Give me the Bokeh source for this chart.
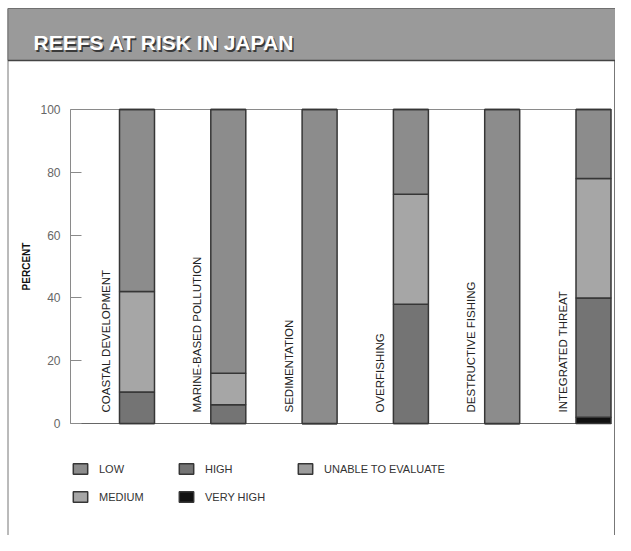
from math import pi
from bokeh.plotting import figure
from bokeh.models import (ColumnDataSource, Range1d, LinearAxis, FixedTicker,
                          Legend, LegendItem)
from bokeh.transform import dodge
from bokeh.core.properties import value
from bokeh.embed import file_html
from bokeh.resources import INLINE

# ---- data ----
title = "REEFS AT RISK IN JAPAN"
categories = ["COASTAL DEVELOPMENT", "MARINE-BASED POLLUTION", "SEDIMENTATION",
              "OVERFISHING", "DESTRUCTIVE FISHING", "INTEGRATED THREAT"]
very_high = [0, 0, 0, 0, 0, 2]
high = [10, 6, 0, 38, 0, 38]
medium = [32, 10, 0, 35, 0, 38]
low = [58, 84, 100, 27, 100, 22]
unable = [0, 0, 0, 0, 0, 0]
levels = ["very_high", "high", "medium", "low", "unable"]
level_labels = ["VERY HIGH", "HIGH", "MEDIUM", "LOW", "UNABLE TO EVALUATE"]
y_ticks = [0, 20, 40, 60, 80, 100]
y_label = "PERCENT"

colors = {"very_high": "#111111", "high": "#747474", "medium": "#a6a6a6",
          "low": "#8c8c8c", "unable": "#9c9c9c"}

FONT_NAME = "Liberation Sans"
FONT = value(FONT_NAME)
W, H = 615, 535

# reference-pixel -> data helpers (layout only)
STEP = 91.3
def XD(px):
    return (px - 136.5) / STEP
def YD(py):
    return (423 - py) / 3.14

src = ColumnDataSource(dict(x=list(range(len(categories))), cat=categories,
                            very_high=very_high, high=high, medium=medium,
                            low=low, unable=unable))

p = figure(width=W, height=H, output_backend="svg", toolbar_location=None,
           x_range=Range1d(XD(0), XD(W)), y_range=Range1d(YD(H), YD(0)),
           x_axis_type=None, y_axis_type=None, min_border=0,
           outline_line_color=None, background_fill_color="white",
           border_fill_color="white")

# frame / banner decoration
p.segment(x0=[XD(7.5), XD(614)], y0=[YD(8), YD(8)], x1=[XD(7.5), XD(614)],
          y1=[YD(540), YD(540)], line_color="#777777", line_width=1)
p.quad(left=XD(7.5), right=XD(615), top=YD(8), bottom=YD(60),
       fill_color="#9a9a9a", line_color="#707070", line_width=1)
p.segment(x0=[XD(7.5)], y0=[YD(60)], x1=[XD(615)], y1=[YD(60)],
          line_color="#444444", line_width=1.5)
p.text(x=[XD(34.5)], y=[YD(43.5)], text=[title], text_font=FONT,
       text_font_size="21px", text_font_style="bold", text_color="#3a3a3a",
       text_baseline="alphabetic")
p.text(x=[XD(33)], y=[YD(42)], text=[title], text_font=FONT,
       text_font_size="21px", text_font_style="bold", text_color="white",
       text_baseline="alphabetic")

# reference lines at 0 and 100
p.segment(x0=[XD(70)], y0=[100], x1=[XD(611)], y1=[100],
          line_color="#8a8a8a", line_width=1)
p.segment(x0=[XD(70)], y0=[0], x1=[XD(611)], y1=[0],
          line_color="#666666", line_width=1)

# stacked bars
rs = p.vbar_stack(levels, x="x", width=35 / STEP, source=src,
                  fill_color=[colors[l] for l in levels],
                  line_color="#363636", line_width=1.5)

# rotated category labels
p.text(x=dodge("x", -31 / STEP), y=YD(412), text="cat", source=src,
       angle=pi / 2, text_align="left", text_baseline="middle",
       text_font=FONT, text_font_size="11.5px", text_color="#222222")

# y axis
yaxis = LinearAxis(fixed_location=XD(70), ticker=FixedTicker(ticks=y_ticks),
                   bounds=(0, 100), axis_label=y_label,
                   axis_line_color="#8a8a8a", major_tick_line_color="#8a8a8a",
                   major_tick_in=11, major_tick_out=0, minor_tick_line_color=None,
                   major_label_standoff=10,
                   major_label_text_font=FONT_NAME, major_label_text_font_size="12px",
                   major_label_text_color="#666666",
                   axis_label_text_font=FONT_NAME, axis_label_text_font_size="10px",
                   axis_label_text_font_style="bold", axis_label_text_color="#111111",
                   axis_label_standoff=5)
p.add_layout(yaxis, "left")

# legends (three columns)
r = dict(zip(levels, rs))
lab = dict(zip(levels, level_labels))
def mk_legend(keys, loc):
    lg = Legend(items=[LegendItem(label=lab[k], renderers=[r[k]]) for k in keys],
                location=loc, orientation="vertical", padding=0, margin=0,
                spacing=15, glyph_width=18, glyph_height=13, label_height=13,
                label_standoff=10, border_line_color=None,
                background_fill_alpha=0, label_text_font=FONT_NAME,
                label_text_font_size="11px", label_text_color="#333333",
                label_text_baseline="middle")
    p.add_layout(lg)

mk_legend(["low", "medium"], (71, H - 462 - 41))
mk_legend(["high", "very_high"], (177, H - 462 - 41))
mk_legend(["unable"], (296, H - 462 - 13))

open("out.html", "w").write(file_html(p, INLINE))
